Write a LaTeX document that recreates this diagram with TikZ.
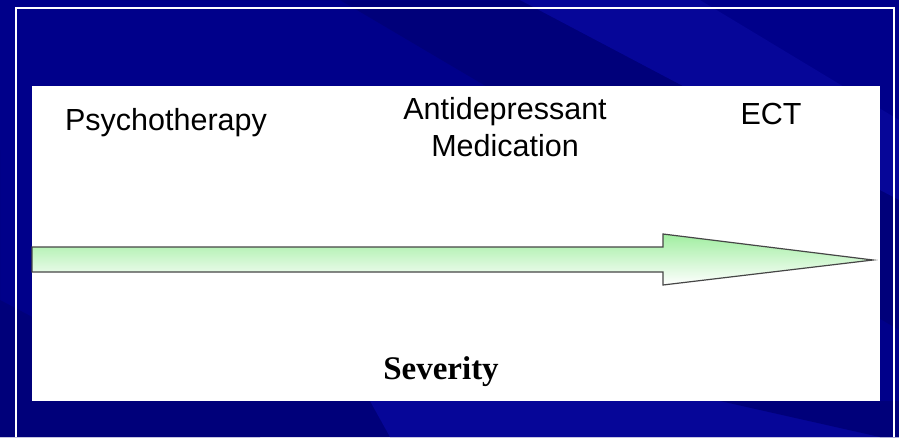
\documentclass[tikz,border=0pt]{standalone}
\usepackage{fontspec}
\setmainfont{Liberation Sans}
\newfontfamily\serifbold{Liberation Serif}
\definecolor{navy}{RGB}{0,0,138}
\definecolor{navydark}{RGB}{0,0,122}
\definecolor{navylight}{RGB}{6,6,152}
\definecolor{arrowgreen}{RGB}{160,238,160}
\definecolor{edgegray}{RGB}{70,70,70}
\tikzset{
  lbl/.style={font=\fontsize{30.5}{37}\selectfont, text=black, align=center, inner sep=0pt},
  sev/.style={font=\serifbold\bfseries\fontsize{33}{37}\selectfont, text=black, inner sep=0pt},
  frameline/.style={draw=white, line width=2pt}
}
\begin{document}
\begin{tikzpicture}[x=1pt,y=-1pt]
\useasboundingbox (0,0) rectangle (899,437);
% background
\fill[navy] (0,0) rectangle (899,437);
\fill[navydark] (0,150) -- (0,437) -- (260,437) -- (0,300) -- cycle;
\fill[navydark] (120,0) -- (340,0) -- (899,330) -- (899,200) -- (520,0) -- cycle;
\fill[navylight] (340,0) -- (520,0) -- (899,200) -- (899,120) -- (700,0) -- cycle;
\fill[navydark] (0,400) -- (0,437) -- (899,437) -- (899,420) -- (500,380) -- cycle;
\fill[navylight] (370,401) -- (899,401) -- (899,437) -- (390,437) -- cycle;
\fill[navydark] (720,401) -- (899,401) -- (899,437) -- (880,437) -- cycle;
% frame lines
\coordinate (fl) at (16,437);
\coordinate (ftl) at (16,8);
\coordinate (ftr) at (894,8);
\coordinate (fr) at (894,437);
\draw[frameline] (fl) -- (ftl) -- (ftr) -- (fr);
% white panel
\fill[white] (32,86) rectangle (880,401);
% arrow
\shade[top color=arrowgreen, bottom color=white, draw=edgegray, line width=1.2pt, line join=miter]
  (32,247) -- (663,247) -- (663,234) -- (873,260) -- (663,285) -- (663,272) -- (32,272) -- cycle;
% labels
\node[lbl] (psy) at (166,123) {Psychotherapy};
\node[lbl] (ad) at (505,127) {Antidepressant\\Medication};
\node[lbl] (ect) at (771,114) {ECT};
\node[sev] (sev) at (441,372) {Severity};
\end{tikzpicture}
\end{document}
